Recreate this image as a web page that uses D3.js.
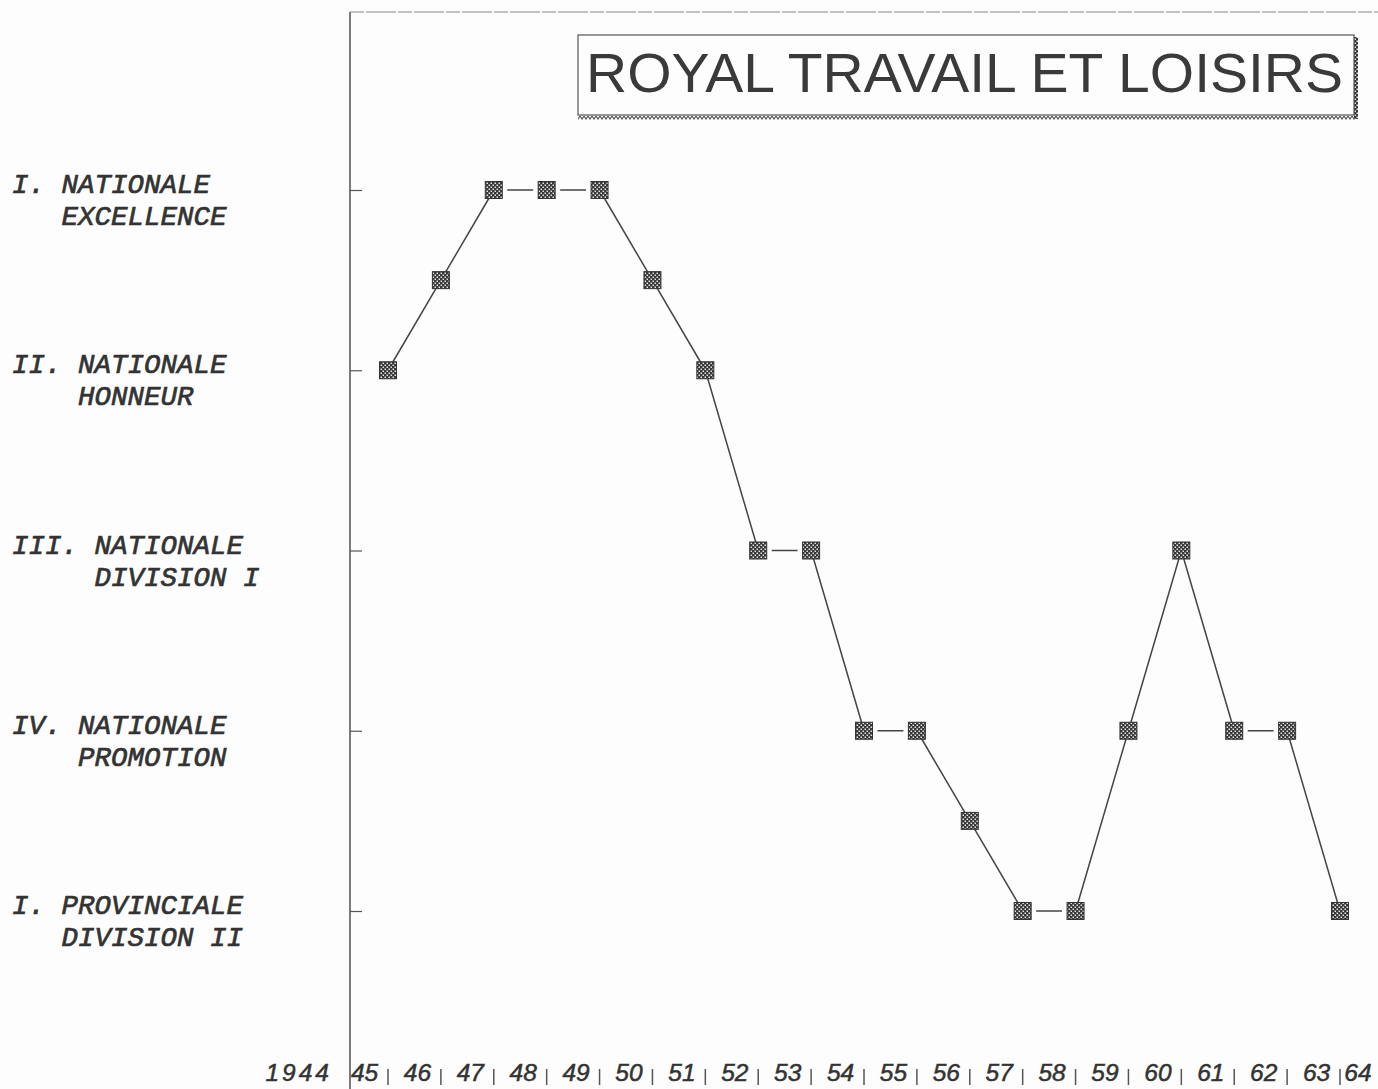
<!DOCTYPE html>
<html>
<head>
<meta charset="utf-8">
<script src="https://cdn.jsdelivr.net/npm/d3@7"></script>
<style>
  html, body { margin: 0; padding: 0; background: #fdfdfd; }
  svg { display: block; }
</style>
</head>
<body>
<script>
// ---- data ----
const seasons = ["1945-46","1946-47","1947-48","1948-49","1949-50","1950-51","1951-52","1952-53","1953-54","1954-55","1955-56","1956-57","1957-58","1958-59","1959-60","1960-61","1961-62","1962-63","1963-64"];
const levels  = [2, 1.5, 1, 1, 1, 1.5, 2, 3, 3, 4, 4, 4.5, 5, 5, 4, 3, 4, 4, 5];
const divisionValues = [1, 2, 3, 4, 5];
const divisionLine1 = ["I. NATIONALE", "II. NATIONALE", "III. NATIONALE", "IV. NATIONALE", "I. PROVINCIALE"];
const divisionLine2 = ["EXCELLENCE", "HONNEUR", "DIVISION I", "PROMOTION", "DIVISION II"];
const yearLabels = ["1944","45","46","47","48","49","50","51","52","53","54","55","56","57","58","59","60","61","62","63","64"];
const title = "ROYAL TRAVAIL ET LOISIRS";

// ---- chart ----
const W = 1378, H = 1089;
const ink = "#333";
const svg = d3.select("body").append("svg").attr("width", W).attr("height", H);

const defs = svg.append("defs");
const pat = defs.append("pattern").attr("id", "dither").attr("width", 4).attr("height", 4)
  .attr("patternUnits", "userSpaceOnUse");
pat.append("rect").attr("width", 4).attr("height", 4).attr("fill", "#383838");
pat.append("rect").attr("x", 0.5).attr("y", 0.5).attr("width", 1.5).attr("height", 1.5).attr("fill", "#e4e4e4");
pat.append("rect").attr("x", 2.5).attr("y", 2.5).attr("width", 1.5).attr("height", 1.5).attr("fill", "#e4e4e4");

const wave = defs.append("pattern").attr("id", "wave").attr("width", 4).attr("height", 5)
  .attr("patternUnits", "userSpaceOnUse");
wave.append("rect").attr("width", 4).attr("height", 5).attr("fill", "#fdfdfd");
wave.append("path").attr("d", "M0,1 L2,4 L4,1").attr("fill", "none").attr("stroke", "#555").attr("stroke-width", 1.2);

const x = d3.scaleLinear().domain([0, seasons.length - 1]).range([388, 1340]);
const y = d3.scaleLinear().domain([1, 5]).range([190, 911]);

const axisX = 350;

// frame: left axis line and top border
svg.append("line").attr("x1", axisX).attr("x2", axisX).attr("y1", 12).attr("y2", H)
  .attr("stroke", "#444").attr("stroke-width", 1.4);
svg.append("line").attr("x1", axisX).attr("x2", W).attr("y1", 12).attr("y2", 12)
  .attr("stroke", "#888").attr("stroke-width", 1).attr("stroke-dasharray", "14,2,30,2");

// y ticks (inward)
const yAxis = d3.axisRight(y).tickValues(divisionValues).tickSize(12).tickFormat("");
const gy = svg.append("g").attr("transform", `translate(${axisX},0)`).call(yAxis);
gy.select(".domain").remove();
gy.selectAll(".tick line").attr("stroke", "#555").attr("stroke-width", 1.2);

// y labels
const fsY = 27.5;
const ylab = svg.append("g")
  .attr("font-family", "'Liberation Mono', 'Courier New', monospace")
  .attr("font-style", "italic")
  .attr("font-size", fsY).attr("fill", ink)
  .attr("stroke", ink).attr("stroke-width", 0.7);
const charW = fsY * 0.6;
divisionValues.forEach((v, i) => {
  const t = ylab.append("text").attr("x", 12).attr("y", y(v) + 3).style("white-space", "pre");
  t.append("tspan").attr("x", 12).text(divisionLine1[i]);
  const indent = divisionLine1[i].indexOf(" ") + 1;
  t.append("tspan").attr("x", 12 + indent * charW).attr("dy", 32).text(divisionLine2[i]);
});

// line segments
const ms = 17;
const segs = d3.range(levels.length - 1).map(i => ({a: i, b: i + 1, flat: levels[i] === levels[i + 1]}));
svg.append("g").selectAll("line").data(segs).join("line")
  .attr("x1", d => x(d.a) + (d.flat ? ms / 2 + 5 : 0)).attr("y1", d => y(levels[d.a]))
  .attr("x2", d => x(d.b) - (d.flat ? ms / 2 + 5 : 0)).attr("y2", d => y(levels[d.b]))
  .attr("stroke", "#444").attr("stroke-width", 1.5);

// markers
svg.append("g").selectAll("rect").data(levels).join("rect")
  .attr("x", (d, i) => x(i) - ms / 2).attr("y", d => y(d) - ms / 2)
  .attr("width", ms).attr("height", ms)
  .attr("fill", "url(#dither)").attr("stroke", "#333").attr("stroke-width", 1);

// x labels
const xl = svg.append("g")
  .attr("font-family", "'Liberation Sans', Arial, sans-serif")
  .attr("font-style", "italic").attr("font-size", 24.5).attr("fill", ink)
  .attr("stroke", ink).attr("stroke-width", 0.5)
  .attr("text-anchor", "middle");
xl.selectAll("text").data(yearLabels).join("text")
  .attr("x", (d, i) => Math.min(x(i - 1.5) + (i === 0 ? -10 : 3), W - 20))
  .attr("y", 1081)
  .attr("letter-spacing", (d, i) => i === 0 ? 3 : 0)
  .text(d => d);
// season separators
svg.append("g").selectAll("line").data(seasons).join("line")
  .attr("x1", (d, i) => x(i)).attr("x2", (d, i) => x(i))
  .attr("y1", 1069).attr("y2", 1085)
  .attr("stroke", "#555").attr("stroke-width", 1.5);

// title box
const bx = 578, by = 35, bw = 776, bh = 80;
svg.append("rect").attr("x", bx).attr("y", by + bh).attr("width", bw + 3).attr("height", 5).attr("fill", "url(#wave)");
svg.append("rect").attr("x", bx + bw).attr("y", by + 2).attr("width", 4).attr("height", bh + 2).attr("fill", "url(#dither)");
svg.append("rect").attr("x", bx).attr("y", by).attr("width", bw).attr("height", bh)
  .attr("fill", "#fdfdfd").attr("stroke", "#555").attr("stroke-width", 1.2);
svg.append("text").attr("x", 586).attr("y", 92)
  .attr("font-family", "'Liberation Sans', Arial, sans-serif").attr("font-size", 55)
  .attr("fill", "#3a3a3a").attr("textLength", 757).attr("lengthAdjust", "spacingAndGlyphs")
  .text(title);
</script>
</body>
</html>
